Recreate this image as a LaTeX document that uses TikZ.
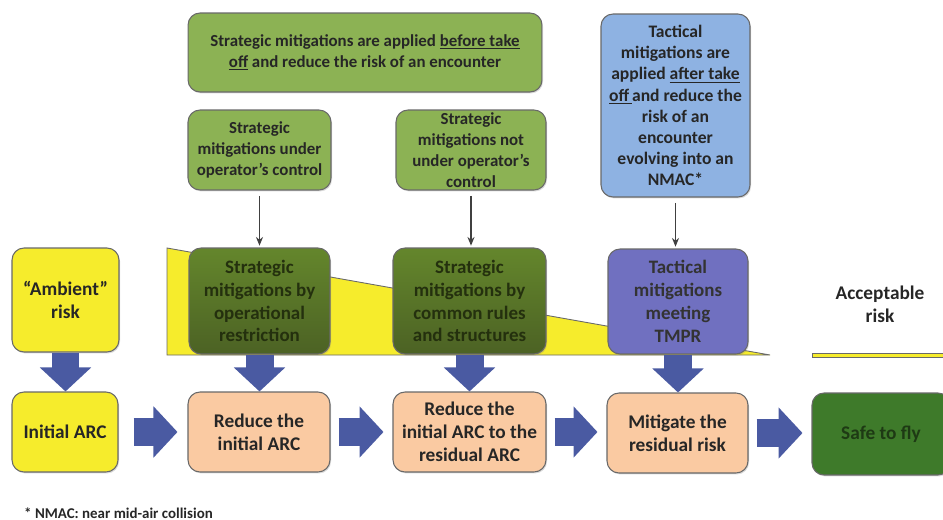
\documentclass[tikz,border=0pt]{standalone}
\usepackage{fontspec}
\setmainfont{Carlito}
\usetikzlibrary{arrows.meta,shadows}
\definecolor{stratgreen}{RGB}{140,178,84}
\definecolor{tacblue}{RGB}{142,178,226}
\definecolor{olivetop}{RGB}{100,134,44}
\definecolor{olivebot}{RGB}{76,98,36}
\definecolor{olivetext}{RGB}{36,48,14}
\definecolor{tmprpurple}{RGB}{112,112,192}
\definecolor{riskyellow}{RGB}{246,236,44}
\definecolor{peach}{RGB}{250,202,162}
\definecolor{safegreen}{RGB}{62,122,42}
\definecolor{safetext}{RGB}{30,58,20}
\definecolor{blockblue}{RGB}{74,90,162}
\definecolor{boxedge}{RGB}{105,105,105}

\begin{document}
\begin{tikzpicture}[x=0.02cm,y=-0.02cm]
    \tikzset{
        box/.style={draw=boxedge, line width=0.6pt, rounded corners=0.24cm, align=center, inner sep=0pt,
            text=black!85, drop shadow={shadow xshift=0.6pt, shadow yshift=-0.8pt, opacity=0.3}},
        toptext/.style={font=\bfseries\fontsize{9.6}{12}\selectfont},
        midtext/.style={font=\bfseries\fontsize{10.8}{13}\selectfont},
        bigtext/.style={font=\bfseries\fontsize{11}{13}\selectfont},
        stratbox/.style={box, toptext, fill=stratgreen},
        olivebox/.style={box, midtext, top color=olivetop, bottom color=olivebot, text=olivetext},
        peachbox/.style={box, bigtext, fill=peach},
        blockarrow/.style={draw=blockblue, line width=0.56cm, -{Triangle[length=0.48cm, width=1cm]}},
        thinarrow/.style={draw=black!75, line width=0.8pt, -{Stealth[length=5pt, width=4pt]}, shorten <=3pt, shorten >=1pt},
    }
    \useasboundingbox (0,0) rectangle (943,520);
    % risk wedge behind the mitigation boxes
    \filldraw[fill=riskyellow, draw=boxedge, line width=0.5pt] (167,248) -- (770,355) -- (167,355) -- cycle;
    \filldraw[fill=riskyellow, draw=boxedge, line width=0.4pt] (812,353) rectangle (950,357);

    \node[stratbox, minimum width=7.08cm, minimum height=1.58cm] (before) at (365,52.5)
        {Strategic mitigations are applied \underline{before take}\\\underline{off} and reduce the risk of an encounter};
    \node[stratbox, minimum width=2.86cm, minimum height=1.6cm] (ctrl) at (259.5,150)
        {Strategic\\mitigations under\\operator’s control};
    \node[stratbox, minimum width=3cm, minimum height=1.6cm] (notctrl) at (471,150)
        {Strategic\\mitigations not\\under operator’s\\control};
    \node[box, fill=tacblue, font=\bfseries\fontsize{10}{12}\selectfont, minimum width=2.98cm, minimum height=3.66cm] (tactop) at (675.5,105.5)
        {Tactical\\mitigations are\\applied \underline{after take}\\\underline{off\,}and reduce the\\risk of an\\encounter\\evolving into an\\NMAC*};

    \node[box, bigtext, fill=riskyellow, minimum width=2.14cm, minimum height=2.08cm] (amb) at (65.5,300) {“Ambient”\\risk};
    \node[olivebox, minimum width=2.82cm, minimum height=2.12cm] (oprest) at (259.5,301)
        {Strategic\\mitigations by\\operational\\restriction};
    \node[olivebox, minimum width=3.06cm, minimum height=2.12cm] (rules) at (469.5,301)
        {Strategic\\mitigations by\\common rules\\and structures};
    \node[box, midtext, fill=tmprpurple, text=black!80, minimum width=2.8cm, minimum height=2.1cm] (tmpr) at (678,301.5)
        {Tactical\\mitigations\\meeting\\TMPR};
    \node[bigtext, align=center, text=black!85] (accept) at (880,304) {Acceptable\\risk};

    \node[box, bigtext, fill=riskyellow, minimum width=2.12cm, minimum height=1.6cm] (iarc) at (65,432) {Initial ARC};
    \node[peachbox, minimum width=2.84cm, minimum height=1.6cm] (redinit) at (259,432) {Reduce the\\initial ARC};
    \node[peachbox, minimum width=3.06cm, minimum height=1.6cm] (redres) at (469.5,432) {Reduce the\\initial ARC to the\\residual ARC};
    \node[peachbox, minimum width=2.82cm, minimum height=1.6cm] (mitig) at (677.5,433) {Mitigate the\\residual risk};
    \node[box, bigtext, fill=safegreen, text=safetext, minimum width=2.76cm, minimum height=1.64cm] (safe) at (881,434) {Safe to fly};

    \node[anchor=west, font=\bfseries\fontsize{8.5}{10}\selectfont, text=black!85] (note) at (18,513) {* NMAC: near mid-air collision};

    \foreach \a/\b in {ctrl/oprest, notctrl/rules, tactop/tmpr}
        \draw[thinarrow] (\a.south) -- (\a.south |- \b.north);
    \foreach \a/\b in {amb/iarc, oprest/redinit, rules/redres, tmpr/mitig}
        \draw[blockarrow] (\a.south) -- (\a.south |- \b.north);
    \draw[blockarrow, shorten <=0.3cm, shorten >=0.2cm] (iarc.east) -- (iarc.east -| redinit.west);
    \foreach \a/\b in {redinit/redres, redres/mitig, mitig/safe}
        \draw[blockarrow, shorten <=0.16cm, shorten >=0.18cm] (\a.east) -- (\a.east -| \b.west);
\end{tikzpicture}
\end{document}
